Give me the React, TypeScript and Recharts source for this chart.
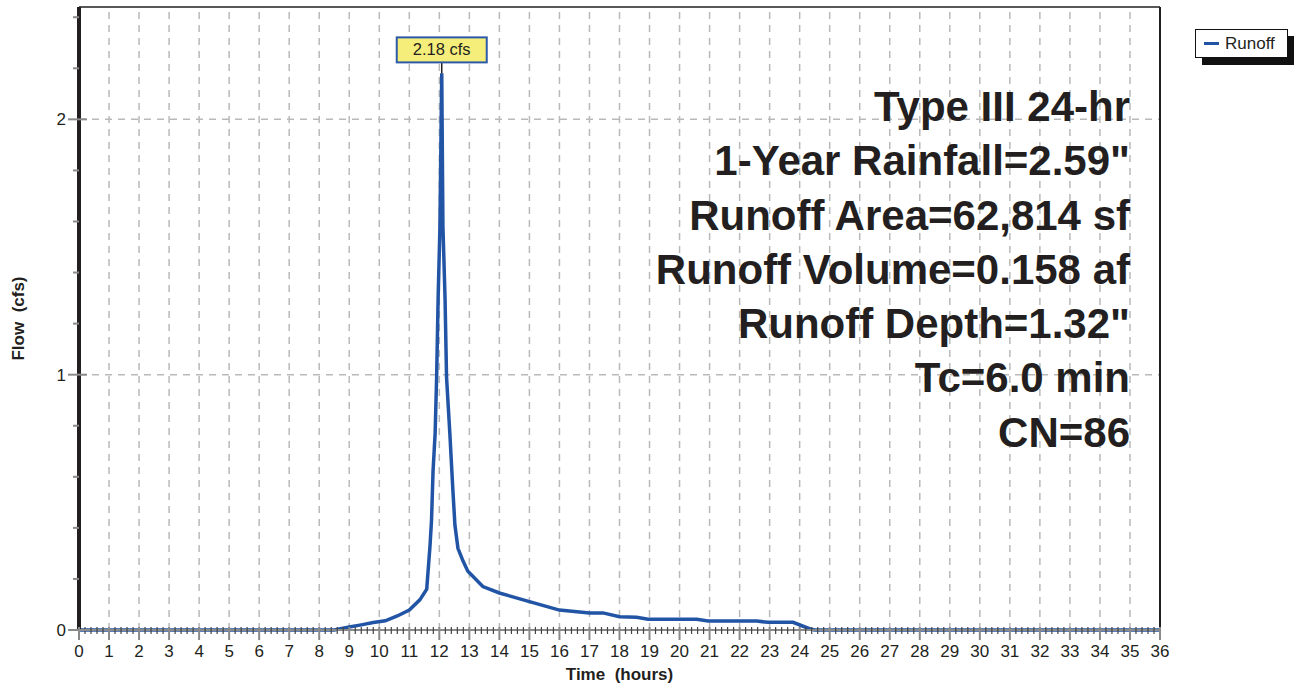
import { LineChart, Line, XAxis, YAxis, ReferenceLine, ReferenceDot } from 'recharts';

const FONT = "'Liberation Sans', Arial, Helvetica, sans-serif";
const INK = '#231f20';
const BLUE = '#2154a5';
const GRID = '#b9b9b9';

// hydrograph: time (hours) and flow (cfs)
const hours = [
  0, 8.5, 9.0, 9.4, 9.8, 10.2, 10.6, 11.0, 11.35, 11.58,
  11.69, 11.74, 11.79, 11.86, 11.91, 11.96, 12.02, 12.08, 12.12, 12.19,
  12.24, 12.35, 12.45, 12.52, 12.62, 12.79, 12.95, 13.45, 14.0, 15.0,
  16.0, 17.0, 17.45, 18.0, 18.57, 18.95, 20.57, 20.95, 22.57, 22.95,
  23.78, 24.35, 24.5, 36,
];
const flowCfs = [
  0, 0, 0.012, 0.02, 0.029, 0.036, 0.055, 0.078, 0.118, 0.16,
  0.33, 0.43, 0.62, 0.77, 0.99, 1.3, 1.58, 2.18, 1.58, 1.3,
  0.99, 0.77, 0.55, 0.41, 0.32, 0.27, 0.23, 0.17, 0.145, 0.111,
  0.078, 0.067, 0.067, 0.052, 0.05, 0.042, 0.042, 0.035, 0.035, 0.03,
  0.03, 0.004, 0, 0,
];

const hourLabels = [
  0, 1, 2, 3, 4, 5, 6, 7, 8, 9, 10, 11, 12, 13, 14, 15, 16, 17, 18,
  19, 20, 21, 22, 23, 24, 25, 26, 27, 28, 29, 30, 31, 32, 33, 34, 35, 36,
];
const flowLabels = [0, 1, 2];
const flowMax = 2.44;

const infoLines = [
  'Type III 24-hr',
  '1-Year Rainfall=2.59"',
  'Runoff Area=62,814 sf',
  'Runoff Volume=0.158 af',
  'Runoff Depth=1.32"',
  'Tc=6.0 min',
  'CN=86',
];

const data = hours.map((h, i) => ({ hour: h, flow: flowCfs[i] }));

// minor ticks every 0.2
const xTicks = Array.from({ length: 36 * 5 + 1 }, (_, i) => Math.round(i * 2) / 10);
const yTicks = Array.from({ length: 13 }, (_, i) => Math.round(i * 2) / 10);

const peakIdx = flowCfs.indexOf(Math.max(...flowCfs));
const peak = { hour: hours[peakIdx], flow: flowCfs[peakIdx] };

const isMajor = (v: number) => Math.abs(v - Math.round(v)) < 1e-6;

function HourTick(props: any) {
  const { x, y, payload } = props;
  const major = isMajor(payload.value);
  return (
    <g>
      <line
        x1={x}
        x2={x}
        y1={y - 3}
        y2={y + (major ? 10 : 4)}
        stroke={major ? '#8a8a8a' : '#444'}
        strokeWidth={major ? 2 : 1.2}
      />
      {major && (
        <text x={x} y={y + 27} textAnchor="middle" fontFamily={FONT} fontSize={17} fill={INK}>
          {Math.round(payload.value)}
        </text>
      )}
    </g>
  );
}

function FlowTick(props: any) {
  const { x, y, payload } = props;
  const major = isMajor(payload.value);
  return (
    <g>
      <line
        x1={major ? x - 11 : x - 6}
        x2={major ? x + 8 : x}
        y1={y}
        y2={y}
        stroke="#8a8a8a"
        strokeWidth={2}
      />
      {major && (
        <text x={x - 13} y={y + 6} textAnchor="end" fontFamily={FONT} fontSize={17} fill={INK}>
          {Math.round(payload.value)}
        </text>
      )}
    </g>
  );
}

function PeakCallout(props: any) {
  const { cx, cy } = props;
  return (
    <g>
      <line x1={cx} x2={cx} y1={cy} y2={cy - 11} stroke={INK} strokeWidth={1.5} />
      <rect x={cx - 45} y={cy - 36} width={90} height={25} fill="#f6ee7a" stroke="#2a5aa8" strokeWidth={2} />
      <text x={cx} y={cy - 18} textAnchor="middle" fontFamily={FONT} fontSize={16.5} fill={INK}>
        {`${peak.flow.toFixed(2)} cfs`}
      </text>
    </g>
  );
}

function LegendBox() {
  return (
    <div style={{ position: 'absolute', left: 1195, top: 29, width: 100, height: 38 }}>
      <div style={{ position: 'absolute', left: 7, top: 7, width: 92, height: 29, background: '#111' }} />
      <div
        style={{
          position: 'absolute',
          left: 0,
          top: 0,
          width: 91,
          height: 27,
          background: '#fff',
          border: '1px solid #111',
          display: 'flex',
          alignItems: 'center',
          fontFamily: FONT,
          fontSize: 17,
          color: INK,
        }}
      >
        <span style={{ display: 'inline-block', width: 15, height: 3, background: BLUE, margin: '0 6px 0 8px' }} />
        Runoff
      </div>
    </div>
  );
}

export default function App() {
  return (
    <div style={{ position: 'absolute', left: 0, top: 0, width: 1294, height: 685, background: '#fff', fontFamily: FONT }}>
      <LineChart width={1294} height={685} data={data} margin={{ top: 7, right: 134, bottom: 0, left: 0 }}>
        {hourLabels.slice(1, -1).map((h) => (
          <ReferenceLine key={`v${h}`} x={h} stroke={GRID} strokeWidth={1.5} strokeDasharray="7 6" />
        ))}
        {flowLabels.slice(1).map((f) => (
          <ReferenceLine key={`h${f}`} y={f} stroke={GRID} strokeWidth={1.5} strokeDasharray="7 6" />
        ))}
        <ReferenceLine x={36} stroke={INK} strokeWidth={2} />
        <ReferenceLine y={flowMax} stroke={INK} strokeWidth={1.5} />
        <XAxis
          dataKey="hour"
          type="number"
          domain={[0, 36]}
          ticks={xTicks}
          interval={0}
          tickLine={false}
          tickSize={0}
          tickMargin={0}
          height={55}
          axisLine={{ stroke: '#8a8a8a', strokeWidth: 2 }}
          tick={(p: any) => <HourTick {...p} />}
          label={(p: any) => {
            const vb = p.viewBox;
            return (
              <text
                x={vb.x + vb.width / 2}
                y={680}
                textAnchor="middle"
                fontFamily={FONT}
                fontSize={17}
                fontWeight="bold"
                fill={INK}
                style={{ whiteSpace: 'pre' }}
              >
                Time  (hours)
              </text>
            );
          }}
        />
        <YAxis
          type="number"
          domain={[0, flowMax]}
          ticks={yTicks}
          interval={0}
          width={79}
          tickLine={false}
          tickSize={0}
          tickMargin={0}
          axisLine={{ stroke: INK, strokeWidth: 4 }}
          tick={(p: any) => <FlowTick {...p} />}
          label={(p: any) => {
            const vb = p.viewBox;
            const cy = vb.y + vb.height / 2;
            return (
              <text
                x={18}
                y={cy}
                transform={`rotate(-90 18 ${cy})`}
                textAnchor="middle"
                dominantBaseline="central"
                fontFamily={FONT}
                fontSize={17}
                fontWeight="bold"
                fill={INK}
                style={{ whiteSpace: 'pre' }}
              >
                Flow  (cfs)
              </text>
            );
          }}
        />
        <Line
          type="linear"
          dataKey="flow"
          name="Runoff"
          stroke={BLUE}
          strokeWidth={3.5}
          dot={false}
          activeDot={false}
          isAnimationActive={false}
        />
        <ReferenceDot x={peak.hour} y={peak.flow} r={0} shape={(p: any) => <PeakCallout {...p} />} />
      </LineChart>
      <LegendBox />
      <div
        style={{
          position: 'absolute',
          right: 164,
          top: 80,
          textAlign: 'right',
          fontSize: 42,
          lineHeight: '54.3px',
          fontWeight: 'bold',
          color: INK,
          whiteSpace: 'pre',
          pointerEvents: 'none',
        }}
      >
        {infoLines.map((t) => (
          <div key={t}>{t}</div>
        ))}
      </div>
    </div>
  );
}
